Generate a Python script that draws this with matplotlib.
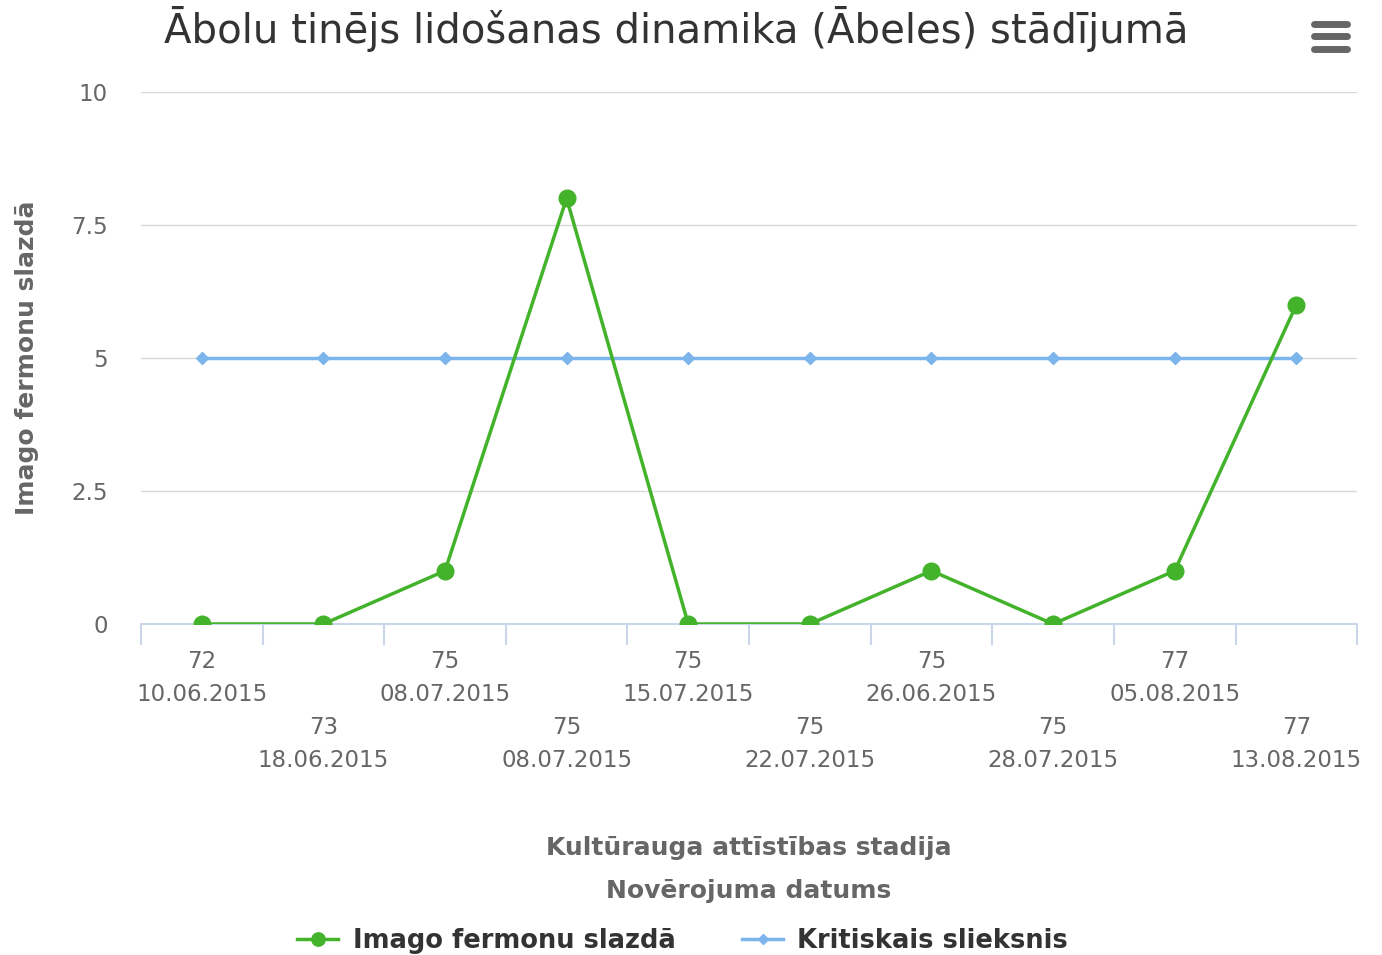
import matplotlib
matplotlib.use("Agg")
import matplotlib.pyplot as plt
from matplotlib.lines import Line2D

# data
stages = ["72", "73", "75", "75", "75", "75", "75", "75", "77", "77"]
dates = ["10.06.2015", "18.06.2015", "08.07.2015", "08.07.2015", "15.07.2015",
         "22.07.2015", "26.06.2015", "28.07.2015", "05.08.2015", "13.08.2015"]
imago = [0, 0, 1, 8, 0, 0, 1, 0, 1, 6]
threshold = [5, 5, 5, 5, 5, 5, 5, 5, 5, 5]

GREEN = "#44b32c"
BLUE = "#7cb5ec"
GREY = "#666666"
AXIS = "#ccd6eb"


def main():
    plt.rcParams['font.family'] = ['DejaVu Sans']
    fig = plt.figure(figsize=(13.82, 9.55), dpi=100)
    ax = fig.add_axes([0.102, 0.3466, 0.880, 0.5571])

    x = list(range(len(imago)))
    ax.plot(x, threshold, color=BLUE, lw=2.5, marker="D", ms=6,
            label="Kritiskais slieksnis", zorder=3)
    ax.plot(x, imago, color=GREEN, lw=2.5, marker="o", ms=12,
            label="Imago fermonu slazdā", zorder=4)

    ax.set_xlim(-0.5, len(x) - 0.5)
    ax.set_ylim(0, 10)
    ax.set_yticks([0, 2.5, 5, 7.5, 10])
    ax.set_yticklabels(["0", "2.5", "5", "7.5", "10"])
    ax.yaxis.grid(True, color="#d8d8d8", lw=1)
    ax.set_axisbelow(True)

    # staggered category labels
    labels = []
    for i, (s, d) in enumerate(zip(stages, dates)):
        lab = s + "\n" + d
        if i % 2 == 1:
            lab = "\n\n" + lab
        labels.append(lab)
    ax.set_xticks(x)
    ax.set_xticklabels(labels, linespacing=1.55)
    ax.set_xticks([i - 0.5 for i in range(len(x) + 1)], minor=True)
    ax.tick_params(axis="x", which="major", length=0, pad=19,
                   labelsize=16.5, labelcolor=GREY)
    ax.tick_params(axis="x", which="minor", length=15, width=1.5, color=AXIS)
    ax.tick_params(axis="y", length=0, pad=24, labelsize=16.5, labelcolor=GREY)

    for side in ["top", "right", "left"]:
        ax.spines[side].set_visible(False)
    ax.spines["bottom"].set_color(AXIS)
    ax.spines["bottom"].set_linewidth(1.5)

    ax.set_ylabel("Imago fermonu slazdā", fontsize=18, fontweight="bold",
                  color=GREY)
    ax.yaxis.set_label_coords(-0.084, 0.5)

    fig.text(0.542, 0.112, "Kultūrauga attīstības stadija", ha="center",
             va="center", fontsize=18, fontweight="bold", color=GREY)
    fig.text(0.542, 0.067, "Novērojuma datums", ha="center", va="center",
             fontsize=18, fontweight="bold", color=GREY)

    fig.text(0.489, 0.970, "Ābolu tinējs lidošanas dinamika (Ābeles) stādījumā",
             ha="center", va="center", fontsize=29, color="#333333")

    # menu icon
    for yy in [0.975, 0.962, 0.949]:
        fig.add_artist(Line2D([0.951, 0.975], [yy, yy], lw=5, color=GREY,
                              solid_capstyle="round", transform=fig.transFigure))

    handles, labs = ax.get_legend_handles_labels()
    fig.legend(handles[::-1], labs[::-1], loc="center", ncol=2,
               bbox_to_anchor=(0.494, 0.015), frameon=False,
               prop={"size": 18.5, "weight": "bold"}, labelcolor="#333333",
               handlelength=1.6, handletextpad=0.55, columnspacing=2.6,
               markerscale=0.8)

    fig.savefig("out.png", dpi=100)


if __name__ == "__main__":
    main()
